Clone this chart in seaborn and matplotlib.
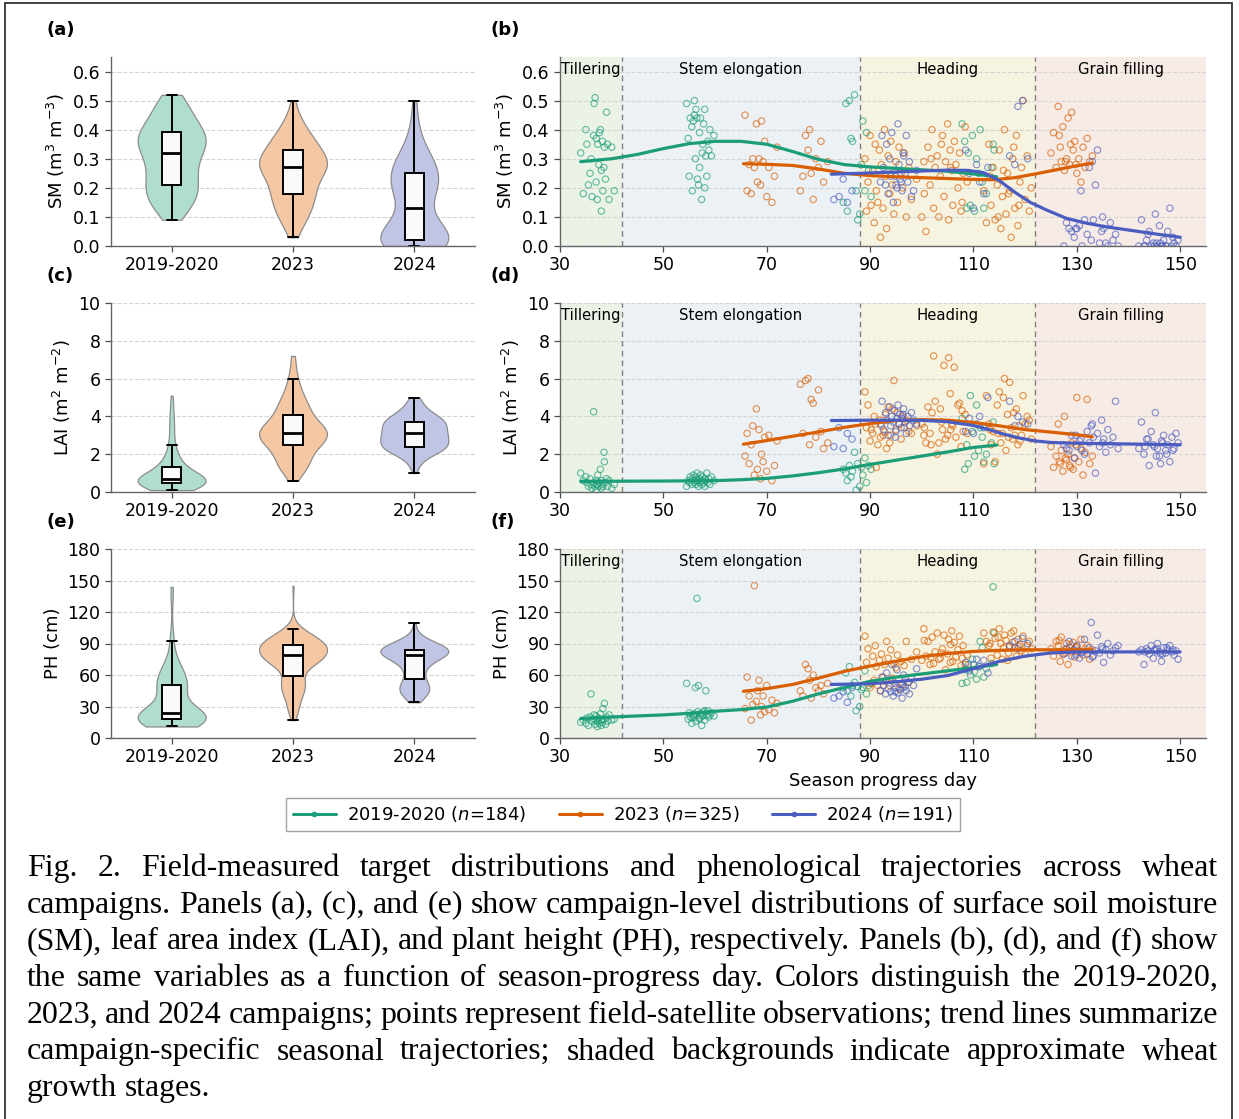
import numpy as np
import pandas as pd
import matplotlib
matplotlib.use("Agg")
import matplotlib.pyplot as plt
import matplotlib.transforms as mtrans
from matplotlib.lines import Line2D
from matplotlib.patches import Rectangle
import seaborn as sns

# ---------------- data ----------------
campaigns = ["2019-2020", "2023", "2024"]
n_obs = [184, 325, 191]
colors = ["#1b9e77", "#d95f02", "#4a5cc0"]
fills = ["#afddcf", "#f5c7a3", "#c0c5e6"]

days_1920 = [34.0,34.5,35.0,35.2,35.5,35.8,36.0,36.2,36.5,36.6,36.8,37.0,37.0,37.2,37.3,37.5,37.6,37.8,38.0,38.0,
             38.2,38.3,38.5,38.6,38.8,39.0,39.2,39.5,40.0,40.5,
             54.5,54.8,55.0,55.2,55.5,55.6,55.8,56.0,56.0,56.2,56.3,56.5,56.6,56.8,57.0,57.0,57.2,57.4,57.5,57.6,
             57.8,58.0,58.0,58.2,58.4,58.6,58.8,59.0,59.3,59.8,
             84.8,85.3,85.6,86.0,86.3,86.6,87.0,87.3,87.6,88.0,88.3,88.6,89.0,89.3,89.7,90.2,
             107.8,108.3,108.7,109.0,109.4,109.8,110.2,110.6,111.0,111.3,111.7,112.0,112.5,113.8,113.5,114.0]
sm_1920 = [0.32,0.18,0.40,0.35,0.21,0.25,0.30,0.17,0.38,0.49,0.51,0.37,0.22,0.16,0.35,0.28,0.39,0.40,0.26,0.12,
           0.36,0.19,0.27,0.34,0.23,0.46,0.35,0.16,0.34,0.19,
           0.49,0.37,0.24,0.44,0.41,0.19,0.43,0.45,0.50,0.30,0.47,0.44,0.23,0.21,0.39,0.27,0.44,0.16,0.32,0.35,
           0.42,0.47,0.20,0.31,0.24,0.36,0.33,0.40,0.31,0.38,
           0.15,0.49,0.12,0.50,0.37,0.36,0.52,0.19,0.09,0.11,0.28,0.43,0.19,0.39,0.26,0.17,
           0.42,0.36,0.13,0.32,0.14,0.38,0.12,0.30,0.25,0.40,0.22,0.13,0.18,0.35,0.27,0.33]
lai_1920 = [1.0,0.6,0.8,0.5,0.3,0.7,0.4,0.2,4.25,0.5,0.3,0.6,0.1,0.4,0.9,0.3,0.5,1.2,0.2,0.6,
            0.4,0.3,2.1,1.6,0.5,0.7,0.3,0.6,0.2,0.4,
            0.3,0.6,0.5,0.8,0.4,0.7,0.9,0.6,0.5,0.8,0.4,1.0,0.6,0.3,0.7,0.5,0.9,0.6,0.4,0.8,
            0.5,0.7,0.3,0.6,1.0,0.5,0.7,0.4,0.8,0.6,
            1.2,1.0,0.6,1.4,0.8,1.1,2.1,0.1,1.5,0.3,1.3,0.9,1.8,0.5,1.4,1.2,
            3.9,1.2,2.5,1.5,5.1,3.2,1.9,4.6,2.2,3.4,2.9,1.6,2.0,3.7,2.6,1.5]
ph_1920 = [15,17,14,19,12,20,42,16,18,22,13,17,21,11,16,19,14,23,17,12,
           15,28,18,33,13,20,16,22,17,18,
           52,18,24,20,14,19,22,23,20,48,16,133,25,50,19,18,23,12,21,21,
           25,17,26,45,22,26,20,22,24,21,
           48,62,45,68,40,50,53,26,49,30,46,48,64,42,50,52,
           52,65,53,70,60,75,63,56,68,92,86,58,66,144,71,100]

days_2023 = [65.8,66.2,66.6,67.0,67.3,67.6,68.0,68.2,68.5,68.8,69.0,69.3,69.6,70.0,70.4,71.0,71.5,72.0,
             76.5,77.0,77.5,78.0,78.3,78.6,79.0,79.5,80.0,80.5,81.0,81.8,
             89.0,89.3,89.6,90.0,90.2,90.5,90.8,91.0,91.2,91.5,91.8,92.0,92.2,92.5,92.8,93.0,93.2,93.5,93.8,94.0,
             94.3,94.6,95.0,95.3,95.6,96.0,96.3,96.6,97.0,97.5,98.0,99.0,
             100.0,100.4,100.8,101.2,101.6,102.0,102.3,102.6,103.0,103.3,103.6,104.0,104.3,104.6,105.0,105.2,
             105.5,105.8,106.0,106.3,106.6,107.0,107.3,107.6,108.0,108.4,108.8,100.5,101.8,103.8,105.6,107.8,
             112.0,112.5,113.0,113.4,113.8,114.2,114.6,115.0,115.3,115.6,116.0,116.3,116.6,117.0,117.3,117.6,
             118.0,118.3,118.6,119.0,119.3,119.6,120.0,120.4,120.8,121.2,113.2,114.8,116.8,118.8,117.8,115.8,
             125.0,125.5,126.0,126.4,126.8,127.0,127.3,127.6,128.0,128.3,128.6,129.0,129.3,129.6,130.0,130.4,
             130.8,131.2,131.6,132.0,132.5,133.0,127.8,128.8,129.8,126.6]
sm_2023 = [0.45,0.19,0.28,0.18,0.30,0.27,0.42,0.22,0.30,0.21,0.43,0.29,0.36,0.17,0.27,0.15,0.24,0.34,
           0.19,0.24,0.38,0.33,0.40,0.25,0.16,0.30,0.27,0.36,0.22,0.29,
           0.30,0.12,0.22,0.38,0.14,0.26,0.08,0.35,0.19,0.15,0.33,0.03,0.28,0.13,0.40,0.24,0.06,0.31,0.18,0.36,
           0.21,0.11,0.29,0.15,0.34,0.25,0.20,0.32,0.10,0.27,0.16,0.23,
           0.10,0.29,0.05,0.34,0.21,0.40,0.13,0.27,0.31,0.10,0.24,0.38,0.17,0.29,0.42,0.09,
           0.33,0.26,0.14,0.36,0.28,0.20,0.32,0.12,0.25,0.41,0.22,0.18,0.30,0.35,0.27,0.15,
           0.19,0.08,0.35,0.14,0.27,0.09,0.21,0.33,0.06,0.17,0.40,0.11,0.25,0.19,0.03,0.30,
           0.13,0.38,0.07,0.22,0.27,0.50,0.16,0.31,0.12,0.20,0.24,0.10,0.18,0.14,0.34,0.26,
           0.32,0.39,0.27,0.48,0.34,0.29,0.41,0.26,0.30,0.44,0.28,0.46,0.33,0.36,0.25,0.30,
           0.22,0.34,0.27,0.37,0.29,0.31,0.29,0.35,0.28,0.38]
lai_2023 = [1.9,3.1,1.5,2.5,3.5,0.9,4.4,1.2,3.3,0.7,2.0,1.6,2.9,1.1,3.0,0.6,1.4,2.7,
            5.7,3.1,5.9,6.0,2.5,4.9,4.7,2.9,5.4,3.2,2.3,2.6,
            5.3,3.4,4.6,2.7,3.3,3.1,4.0,3.6,1.3,2.5,3.8,2.9,3.5,3.0,3.2,4.1,2.3,4.5,2.6,3.0,
            4.4,5.9,3.3,4.2,3.6,2.8,4.0,3.4,3.8,3.2,3.1,3.5,
            3.6,3.0,2.6,4.5,3.1,4.2,7.2,4.8,2.0,2.6,4.4,3.3,6.7,2.8,3.0,7.1,
            5.2,3.6,3.5,6.6,2.9,4.6,4.7,2.4,3.2,4.1,3.1,3.4,2.5,3.7,3.3,4.3,
            1.5,5.1,3.6,2.5,3.2,1.6,4.6,5.3,2.6,3.1,6.0,2.2,4.1,5.8,3.4,2.8,
            3.0,4.4,2.5,2.7,3.0,5.1,3.6,4.0,3.8,2.8,3.3,3.1,2.9,3.5,4.2,5.0,
            2.4,1.3,1.9,3.6,1.5,2.2,1.1,4.0,1.7,2.0,1.4,2.6,1.2,1.8,5.0,1.6,
            2.3,0.9,2.1,4.9,1.5,1.9,1.8,1.3,2.5,1.6]
ph_2023 = [28,58,40,17,32,145,35,45,55,22,30,40,25,50,27,36,24,33,
           45,40,70,66,55,38,60,48,45,50,42,52,
           97,72,85,48,52,78,55,88,68,50,74,45,80,58,70,54,92,76,50,84,
           57,71,67,79,47,73,51,69,92,53,75,82,
           74,104,78,92,70,96,71,82,100,75,76,85,98,65,80,94,
           72,102,73,91,77,84,97,69,88,70,79,93,77,81,89,76,
           100,92,88,76,101,95,79,104,90,75,98,93,74,87,100,91,
           86,78,94,89,83,97,80,88,92,85,90,96,81,87,102,86,
           85,78,92,88,73,96,80,84,90,70,86,82,91,77,87,83,
           94,79,85,88,75,84,81,89,86,93]

days_2024 = [83.0,84.0,84.8,85.6,86.5,
             92.0,92.3,92.6,93.0,93.2,93.5,93.8,94.0,94.2,94.5,94.7,95.0,95.2,95.4,95.6,95.8,96.0,96.2,96.5,96.8,
             97.0,97.3,97.6,98.0,98.4,99.0,94.9,96.4,
             108.5,109.2,110.0,110.6,111.2,112.0,112.8,
             117.0,118.0,118.6,119.5,120.5,
             127.5,128.0,128.5,129.0,129.5,130.0,130.5,131.0,131.5,132.0,132.4,132.8,133.2,133.6,134.0,134.4,
             134.8,135.2,135.6,136.0,136.5,137.0,137.5,138.0,130.8,133.0,135.0,129.8,
             142.0,142.5,143.0,143.5,144.0,144.4,144.8,145.2,145.6,146.0,146.4,146.8,147.2,147.6,148.0,148.4,
             148.8,149.2,149.6,145.0,146.2,147.4,143.8,143.2,145.4,146.6,148.6]
sm_2024 = [0.16,0.17,0.23,0.15,0.19,
           0.22,0.38,0.27,0.21,0.35,0.18,0.30,0.24,0.39,0.15,0.26,0.21,0.20,0.42,0.28,0.23,0.22,0.19,0.31,0.25,
           0.38,0.22,0.29,0.17,0.19,0.26,0.24,0.32,
           0.33,0.25,0.13,0.28,0.22,0.18,0.27,
           0.31,0.28,0.48,0.50,0.30,
           0.0,0.08,0.06,0.05,0.03,0.06,0.07,0.0,0.09,0.04,0.27,0.02,0.09,0.21,0.33,0.01,
           0.05,0.06,0.01,0.0,0.08,0.02,0.04,0.0,0.19,0.29,0.10,0.06,
           0.0,0.09,0.0,0.02,0.05,0.0,0.01,0.11,0.0,0.07,0.0,0.02,0.0,0.05,0.13,0.0,
           0.01,0.0,0.02,0.0,0.01,0.0,0.04,0.0,0.01,0.0,0.03]
lai_2024 = [2.4,3.4,2.3,3.1,2.8,
            3.6,4.8,3.3,4.2,3.8,3.0,4.5,3.5,4.0,3.7,4.3,3.2,3.9,4.6,3.6,4.1,3.4,3.9,4.4,3.7,
            3.1,4.0,3.5,4.2,3.8,3.6,2.9,4.1,
            3.2,3.9,3.1,3.6,4.0,3.4,5.0,
            4.8,3.5,4.0,3.7,3.6,
            2.5,2.3,2.2,3.0,1.8,2.4,2.7,2.2,2.0,3.2,2.6,3.5,2.9,1.0,3.1,2.4,
            3.8,2.8,2.1,3.3,2.5,2.9,4.8,2.3,2.8,3.6,2.6,3.0,
            2.3,3.7,2.0,2.8,1.4,3.2,2.5,4.2,2.3,1.9,2.7,3.0,2.2,2.5,1.6,2.9,
            2.3,3.1,2.6,2.4,1.5,2.0,2.8,2.4,1.9,2.6,2.2]
ph_2024 = [38,40,44,34,48,
           45,58,50,42,62,47,55,44,70,40,52,48,65,43,56,46,51,38,60,49,
           45,53,42,57,50,66,44,48,
           72,64,70,75,68,74,62,
           88,92,85,95,90,
           80,85,92,78,84,88,76,82,94,80,86,110,78,83,98,81,
           87,72,84,90,79,83,86,88,81,77,85,79,
           82,84,70,85,80,88,76,83,90,82,73,86,81,84,88,82,
           79,83,75,84,80,86,83,82,85,80,84]

# trend lines
sm_trend_days = [[34,40,45,50,55,60,65,70,75,80,85,90,95,100,105,110,114.5],
                 [65.5,70,75,80,85,90,95,100,105,110,114,118,122,126,130,133],
                 [82.5,88,94,100,105,109,112,115,118,121,124,128,132,136,140,145,150]]
sm_trend_vals = [[0.29,0.30,0.315,0.335,0.352,0.36,0.36,0.35,0.325,0.298,0.28,0.272,0.267,0.262,0.257,0.248,0.238],
                 [0.283,0.281,0.277,0.265,0.25,0.242,0.238,0.235,0.232,0.229,0.228,0.235,0.248,0.262,0.276,0.285],
                 [0.247,0.25,0.254,0.258,0.261,0.26,0.252,0.225,0.185,0.15,0.125,0.095,0.078,0.065,0.055,0.042,0.03]]
lai_trend_days = [[34,40,50,60,65,70,75,80,85,90,95,100,105,110,114.5],
                  [65.5,70,75,80,85,90,95,100,105,110,115,120,125,130,133],
                  [82.5,90,95,100,105,110,113,116,119,122,125,130,135,140,145,150]]
lai_trend_vals = [[0.56,0.57,0.58,0.6,0.65,0.72,0.85,1.02,1.22,1.46,1.68,1.9,2.12,2.36,2.48],
                  [2.53,2.72,2.95,3.18,3.42,3.62,3.78,3.83,3.8,3.68,3.5,3.3,3.17,3.03,2.92],
                  [3.78,3.8,3.8,3.79,3.72,3.52,3.3,3.05,2.85,2.7,2.62,2.58,2.56,2.54,2.52,2.5]]
ph_trend_days = [[34,40,45,50,55,60,65,70,75,80,85,90,95,100,105,110,114.5],
                 [65.5,70,75,80,85,90,95,100,105,110,115,120,125,133],
                 [82.5,90,95,100,105,110,115,120,125,130,135,140,145,150]]
ph_trend_vals = [[18.5,20,21,22,23.5,25.5,27,29.5,35,42,48,54,58,61,64,67,70],
                 [44.5,47,51,57,63.5,68.5,73,77.5,80.5,82.5,83.5,84,84,84],
                 [51,51.7,53.5,56,59.5,66,73,78,81,82,82,82,82,82]]

stage_names = ["Tillering", "Stem elongation", "Heading", "Grain filling"]
stage_bounds = [30, 42, 88, 122, 155]
stage_colors = ["#ebf3e7", "#ecf1f6", "#f6f3e0", "#f7ebe6"]

caption_lines = [
    "Fig. 2. Field-measured target distributions and phenological trajectories across wheat",
    "campaigns. Panels (a), (c), and (e) show campaign-level distributions of surface soil moisture",
    "(SM), leaf area index (LAI), and plant height (PH), respectively. Panels (b), (d), and (f) show",
    "the same variables as a function of season-progress day. Colors distinguish the 2019-2020,",
    "2023, and 2024 campaigns; points represent field-satellite observations; trend lines summarize",
    "campaign-specific seasonal trajectories; shaded backgrounds indicate approximate wheat",
    "growth stages.",
]

# ---------------- build table ----------------
frames = []
for camp, d, s, l, p in zip(campaigns,
                            [days_1920, days_2023, days_2024],
                            [sm_1920, sm_2023, sm_2024],
                            [lai_1920, lai_2023, lai_2024],
                            [ph_1920, ph_2023, ph_2024]):
    frames.append(pd.DataFrame({"campaign": camp, "day": d, "SM": s, "LAI": l, "PH": p}))
df = pd.concat(frames, ignore_index=True)

# ---------------- figure ----------------
sns.set_style("ticks")
plt.rcParams["font.family"] = ["DejaVu Sans"]
plt.rcParams["text.color"] = "black"
plt.rcParams["axes.labelcolor"] = "black"
W, H = 1239, 1119
fig = plt.figure(figsize=(W / 100, H / 100), dpi=100)

def px_axes(x0, y0, w, h):
    return fig.add_axes([x0 / W, 1 - (y0 + h) / H, w / W, h / H])

row_tops = [57, 303, 549]
AH = 189
variables = ["SM", "LAI", "PH"]
ylabels = ["SM (m$^3$ m$^{-3}$)", "LAI (m$^2$ m$^{-2}$)", "PH (cm)"]
ylims = [(0, 0.65), (0, 10), (0, 180)]
yticks = [np.arange(0, 0.61, 0.1), np.arange(0, 10.1, 2), np.arange(0, 181, 30)]
trends_days = [sm_trend_days, lai_trend_days, ph_trend_days]
trends_vals = [sm_trend_vals, lai_trend_vals, ph_trend_vals]
letters = [("(a)", "(b)"), ("(c)", "(d)"), ("(e)", "(f)")]

def style_axes(ax):
    for sp in ["top", "right"]:
        ax.spines[sp].set_visible(False)
    for sp in ["left", "bottom"]:
        ax.spines[sp].set_color("0.4")
        ax.spines[sp].set_linewidth(1.0)
    ax.tick_params(labelsize=12.5, colors="0.3", labelcolor="black", length=4, width=0.9)
    ax.grid(axis="y", ls="--", color="0.83", lw=0.8)
    ax.set_axisbelow(True)

for r, var in enumerate(variables):
    top = row_tops[r]
    # ---- left: violin + box ----
    axl = px_axes(111, top, 364, AH)
    sns.violinplot(data=df, x="campaign", y=var, hue="campaign", order=campaigns,
                   hue_order=campaigns, palette=fills, saturation=1, cut=0, inner=None,
                   density_norm="width", width=0.56, linewidth=0.9, linecolor="0.55",
                   legend=False, ax=axl)
    sns.boxplot(data=df, x="campaign", y=var, order=campaigns, width=0.16, showfliers=False,
                color="#fafafa", saturation=1, linecolor="black", linewidth=1.4,
                medianprops=dict(linewidth=2.0, color="black"), ax=axl)
    axl.set_xlim(-0.5, 2.5)
    axl.set_ylim(*ylims[r])
    axl.set_yticks(yticks[r])
    if var == "SM":
        axl.set_yticklabels([f"{v:.1f}" for v in yticks[r]])
    axl.set_xlabel("")
    axl.set_ylabel(ylabels[r], fontsize=13)
    style_axes(axl)

    # ---- right: trajectories ----
    axr = px_axes(560, top, 646, AH)
    for i in range(4):
        axr.axvspan(stage_bounds[i], stage_bounds[i + 1], color=stage_colors[i], lw=0, zorder=0)
        axr.text((stage_bounds[i] + stage_bounds[i + 1]) / 2, 0.975, stage_names[i],
                 transform=mtrans.blended_transform_factory(axr.transData, axr.transAxes),
                 ha="center", va="top", fontsize=10.7, zorder=6)
    for xb in stage_bounds[1:4]:
        axr.axvline(xb, color="0.5", ls=(0, (4, 3)), lw=1.0, zorder=1)
    for k, camp in enumerate(campaigns):
        sub = df[df["campaign"] == camp]
        sns.scatterplot(x=sub["day"], y=sub[var], color=colors[k], s=21, linewidth=0.85,
                        ax=axr, zorder=3)
        coll = axr.collections[-1]
        coll.set_facecolor("none")
        coll.set_edgecolor(colors[k])
        coll.set_alpha(0.65)
    for k in range(3):
        sns.lineplot(x=trends_days[r][k], y=trends_vals[r][k], color=colors[k], lw=2.3,
                     ax=axr, zorder=5)
    axr.set_xlim(30, 155)
    axr.set_xticks(np.arange(30, 151, 20))
    axr.set_ylim(*ylims[r])
    axr.set_yticks(yticks[r])
    if var == "SM":
        axr.set_yticklabels([f"{v:.1f}" for v in yticks[r]])
    axr.set_ylabel(ylabels[r], fontsize=13)
    axr.set_xlabel("Season progress day" if r == 2 else "", fontsize=13)
    style_axes(axr)

    lab_y = 1 - (top - 27) / H
    fig.text(47 / W, lab_y, letters[r][0], fontsize=13, fontweight="bold", va="center", ha="left")
    fig.text(490 / W, lab_y, letters[r][1], fontsize=13, fontweight="bold", va="center", ha="left")

# ---- legend ----
handles = [Line2D([0], [0], color=c, lw=2.2, marker="o", markersize=3) for c in colors]
labels = [f"{c} ($n$={n})" for c, n in zip(campaigns, n_obs)]
leg = fig.legend(handles, labels, loc="center", bbox_to_anchor=(623 / W, 1 - 814.5 / H), ncol=3,
                 frameon=True, fancybox=False, edgecolor="0.55", fontsize=13, handlelength=2.4,
                 columnspacing=1.8, handletextpad=0.6, borderpad=0.35)
leg.get_frame().set_linewidth(1.0)

# ---- figure border ----
fig.add_artist(Rectangle((5 / W, -0.02), (1232 - 5) / W, (H - 3) / H + 0.02,
                         transform=fig.transFigure, fill=False, ec="0.2", lw=1.3))

# ---- justified caption ----
fig.canvas.draw()
renderer = fig.canvas.get_renderer()
cap_left, cap_right = 27, 1218
cap_w = cap_right - cap_left
baselines = [876, 912.7, 949.4, 986.1, 1022.8, 1059.5, 1096.2]
base_fs = 23

def measure(word, fs):
    t = fig.text(0, 0, word, fontfamily="Liberation Serif", fontsize=fs)
    w = t.get_window_extent(renderer).width
    t.remove()
    return w

sp_w = measure("a a", base_fs) - 2 * measure("a", base_fs)
natural = []
for line in caption_lines:
    ws = line.split(" ")
    natural.append(sum(measure(w, base_fs) for w in ws) + sp_w * (len(ws) - 1) * 0.8)
fs = base_fs * min(1.0, cap_w / max(natural))
sp_w = sp_w * fs / base_fs

for i, line in enumerate(caption_lines):
    words = line.split(" ")
    y = 1 - baselines[i] / H
    texts = [fig.text(0, y, w, fontfamily="Liberation Serif", fontsize=fs, va="baseline", ha="left",
                      color="black")
             for w in words]
    widths = [t.get_window_extent(renderer).width for t in texts]
    if i == len(caption_lines) - 1:
        gap = sp_w
    else:
        gap = (cap_w - sum(widths)) / (len(words) - 1)
    x = cap_left
    for t, wd in zip(texts, widths):
        t.set_x(x / W)
        x += wd + gap

fig.savefig("out.png", dpi=100)
